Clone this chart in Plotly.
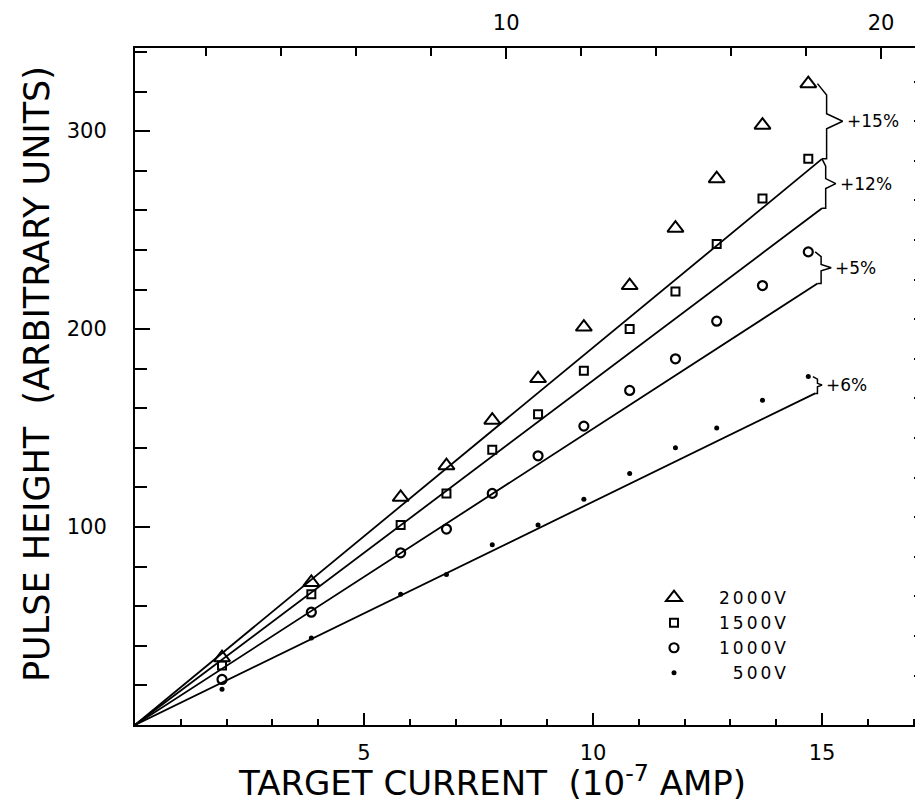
import plotly.graph_objects as go

# ---- data ----
current = [1.9, 3.85, 5.8, 6.8, 7.8, 8.8, 9.8, 10.8, 11.8, 12.7, 13.7, 14.7]
ph_2000 = [34, 72, 115, 131, 154, 175, 201, 222, 251, 276, 303, 324]
ph_1500 = [30, 66, 101, 117, 139, 157, 179, 200, 219, 243, 266, 286]
ph_1000 = [23, 57, 87, 99, 117, 136, 151, 169, 185, 204, 222, 239]
ph_500 = [18, 44, 66, 76, 91, 101, 114, 127, 140, 150, 164, 176]

fit_x_2000 = [0, 15.0]
fit_y_2000 = [0, 286]
fit_x_1500 = [0, 15.0]
fit_y_1500 = [0, 261]
fit_x_1000 = [0, 14.9]
fit_y_1000 = [0, 223]
fit_x_500 = [0, 14.85]
fit_y_500 = [0, 167.5]

deviation_labels = ["+15%", "+12%", "+5%", "+6%"]
series_names = ["2000V", "1500V", "1000V", "\u2007500V"]

x_ticks_bottom = [5, 10, 15]
y_ticks_left = [100, 200, 300]
top_tick_vals = [10, 20]
right_tick_vals = [25, 45, 65, 85, 105, 125, 145, 165, 185, 205, 225, 245, 265, 285, 305, 325]

X_RANGE = [0, 17.27]
Y_RANGE = [0, 342]
FONT = "DejaVu Sans"
INK = "black"

fig = go.Figure()

# fitted lines
for fx, fy in [(fit_x_2000, fit_y_2000), (fit_x_1500, fit_y_1500),
               (fit_x_1000, fit_y_1000), (fit_x_500, fit_y_500)]:
    fig.add_trace(go.Scatter(x=fx, y=fy, mode="lines", line=dict(color=INK, width=1.8),
                             showlegend=False, hoverinfo="skip"))

# data points
marker_styles = [
    dict(symbol="triangle-up-open", size=14, line=dict(color=INK, width=2)),
    dict(symbol="square-open", size=8, line=dict(color=INK, width=2)),
    dict(symbol="circle-open", size=9, line=dict(color=INK, width=2.2)),
    dict(symbol="circle", size=5, color=INK),
]
for name, vals, ms in zip(series_names, [ph_2000, ph_1500, ph_1000, ph_500], marker_styles):
    m = dict(ms)
    if "color" not in m:
        m["color"] = INK
    fig.add_trace(go.Scatter(x=current, y=vals, mode="markers",
                             name="<span style='letter-spacing:3px'>" + name + "</span>", marker=m))

# braces for deviations
def brace(x_from, y_top, y_bot, x_end_bot, xb, xtip):
    ymid = (y_top + y_bot) / 2
    h = y_top - y_bot
    xs = [x_from, xb, xb, xtip, xb, xb, x_end_bot]
    ys = [y_top, y_top - 0.15 * h, ymid + 0.1 * h, ymid, ymid - 0.1 * h, y_bot, y_bot]
    return xs, ys

braces = [
    (current[-1] + 0.2, ph_2000[-1], fit_y_2000[-1], fit_x_2000[-1], fit_x_2000[-1] + 0.1, fit_x_2000[-1] + 0.45),
    (fit_x_2000[-1], ph_1500[-1], fit_y_1500[-1], fit_x_1500[-1], fit_x_1500[-1] + 0.08, fit_x_1500[-1] + 0.3),
    (current[-1] + 0.15, ph_1000[-1], fit_y_1000[-1], fit_x_1000[-1], fit_x_1000[-1] + 0.08, fit_x_1000[-1] + 0.3),
    (current[-1] + 0.1, ph_500[-1], fit_y_500[-1], fit_x_500[-1], fit_x_500[-1] + 0.05, fit_x_500[-1] + 0.15),
]
annotations = []
for (xf, yt, yb, xe, xb, xt), lab in zip(braces, deviation_labels):
    bx, by = brace(xf, yt, yb, xe, xb, xt)
    fig.add_trace(go.Scatter(x=bx, y=by, mode="lines", line=dict(color=INK, width=1.5),
                             showlegend=False, hoverinfo="skip"))
    annotations.append(dict(x=xt + 0.05, y=(yt + yb) / 2, xref="x", yref="y", text=lab,
                            showarrow=False, xanchor="left", yanchor="middle",
                            font=dict(family=FONT, size=17, color=INK)))

# invisible trace to activate secondary axes (top / right ticks)
fig.add_trace(go.Scatter(x=[0.1], y=[0], xaxis="x2", yaxis="y2", mode="markers",
                         marker=dict(size=1, opacity=0), showlegend=False, hoverinfo="skip"))

annotations.append(dict(x=(484 - 127) / 791, y=(717 - 773) / 677, xref="paper", yref="paper",
                        text="TARGET CURRENT  (10<sup>-7</sup> AMP)", showarrow=False,
                        xanchor="center", yanchor="middle",
                        font=dict(family=FONT, size=34, color=INK)))
annotations.append(dict(x=(29 - 127) / 791, y=(717 - 366) / 677, xref="paper", yref="paper",
                        text="PULSE HEIGHT  (ARBITRARY UNITS)", showarrow=False, textangle=-90,
                        xanchor="center", yanchor="middle",
                        font=dict(family=FONT, size=35, color=INK)))

fig.update_layout(
    width=923, height=806,
    margin=dict(l=127, r=5, t=40, b=89),
    paper_bgcolor="white", plot_bgcolor="white",
    font=dict(family=FONT, color=INK),
    showlegend=True,
    legend=dict(x=(621 - 127) / 791, y=(717 - 572) / 677, xanchor="left", yanchor="top",
                bgcolor="rgba(0,0,0,0)", itemwidth=80, tracegroupgap=0,
                font=dict(family=FONT, size=17, color=INK)),
    xaxis=dict(range=X_RANGE, showgrid=False, zeroline=False, showline=True, linecolor=INK, linewidth=2,
               automargin=False,
               tickvals=x_ticks_bottom, ticks="inside", ticklen=12, tickwidth=2, tickcolor=INK,
               minor=dict(dtick=1, tick0=0, ticks="inside", ticklen=6, tickwidth=2, tickcolor=INK),
               tickfont=dict(family=FONT, size=21, color=INK), ticklabelstandoff=8),
    yaxis=dict(range=Y_RANGE, showgrid=False, zeroline=False, showline=True, linecolor=INK, linewidth=2,
               automargin=False,
               tickvals=y_ticks_left, ticks="inside", ticklen=15, tickwidth=2, tickcolor=INK,
               minor=dict(dtick=20, tick0=0, ticks="inside", ticklen=12, tickwidth=2, tickcolor=INK),
               tickfont=dict(family=FONT, size=21, color=INK), ticklabelstandoff=22),
    xaxis2=dict(overlaying="x", side="top", range=[0.1, 21.2], showgrid=False, zeroline=False,
                showline=True, linecolor=INK, linewidth=2, automargin=False,
                tickvals=top_tick_vals, ticks="inside", ticklen=11,
                minor=dict(dtick=2, tick0=0, ticks="inside", ticklen=8, tickwidth=2, tickcolor=INK),
                tickwidth=2, tickcolor=INK, tickfont=dict(family=FONT, size=21, color=INK),
                ticklabelstandoff=8),
    yaxis2=dict(overlaying="y", side="right", range=Y_RANGE, showgrid=False, zeroline=False,
                showline=True, linecolor=INK, linewidth=1.5, automargin=False,
                tickvals=right_tick_vals, showticklabels=False, ticks="inside", ticklen=12,
                tickwidth=2, tickcolor=INK),
    annotations=annotations,
)

fig.write_html("out.html")
